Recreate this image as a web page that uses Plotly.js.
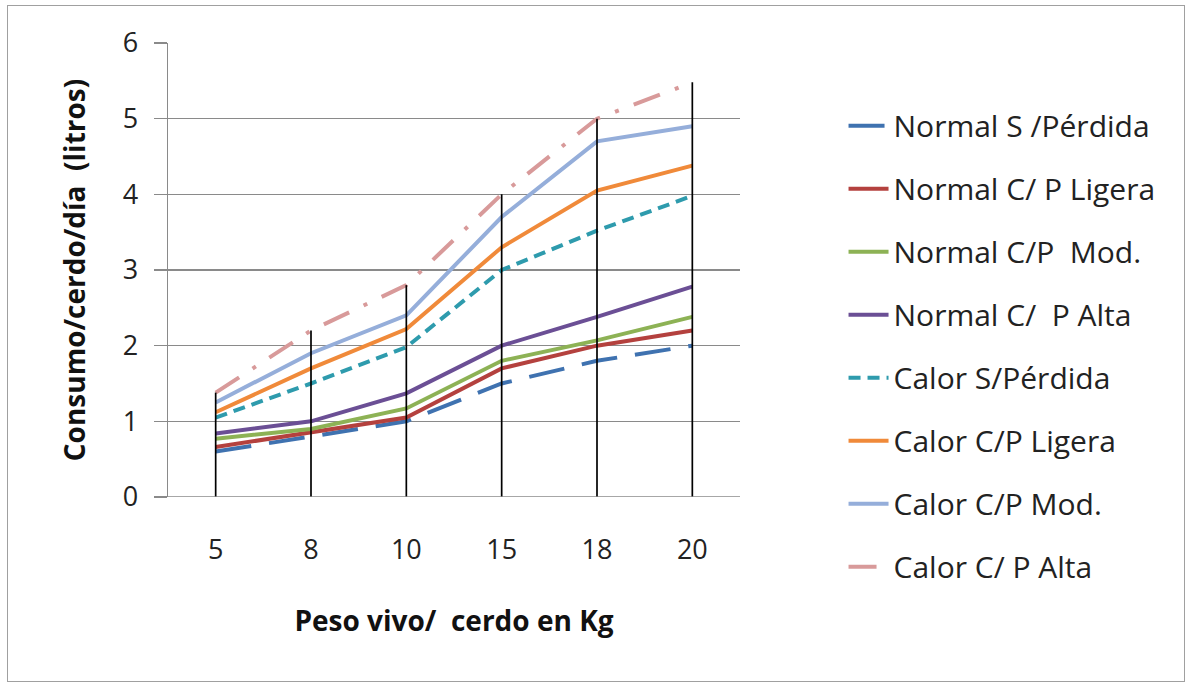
<!DOCTYPE html>
<html>
<head>
<meta charset="utf-8">
<script src="https://cdn.plot.ly/plotly-3.0.1.min.js"></script>
<style>
  html, body { margin: 0; padding: 0; background: #fff; }
  #frame { position: absolute; left: 7px; top: 5px; width: 1178px; height: 677px; border: 1.5px solid #a0a0a0; box-sizing: border-box; }
  #chart { position: absolute; left: 0; top: 0; width: 1188px; height: 684px; }
</style>
</head>
<body>
<div id="frame"></div>
<div id="chart"></div>
<script>
const categories = ['5', '8', '10', '15', '18', '20'];
const normalSinPerdida   = [0.6, 0.8, 1.0, 1.5, 1.8, 2.0];
const normalPLigera      = [0.66, 0.85, 1.05, 1.7, 2.0, 2.2];
const normalPMod         = [0.77, 0.9, 1.17, 1.8, 2.07, 2.38];
const normalPAlta        = [0.84, 1.0, 1.37, 2.0, 2.38, 2.78];
const calorSinPerdida    = [1.05, 1.5, 1.98, 3.0, 3.52, 3.98];
const calorPLigera       = [1.12, 1.7, 2.22, 3.3, 4.05, 4.38];
const calorPMod          = [1.25, 1.9, 2.4, 3.7, 4.7, 4.9];
const calorPAlta         = [1.38, 2.2, 2.8, 4.0, 5.0, 5.48];
const seriesNames = ['Normal S /Pérdida', 'Normal C/ P Ligera', 'Normal C/P  Mod.', 'Normal C/  P Alta',
                     'Calor S/Pérdida', 'Calor C/P Ligera', 'Calor C/P Mod.', 'Calor C/ P Alta'];
const yTicks = [0, 1, 2, 3, 4, 5, 6];

const allSeries = [normalSinPerdida, normalPLigera, normalPMod, normalPAlta,
                   calorSinPerdida, calorPLigera, calorPMod, calorPAlta];
const colors = ['#3F72B0', '#B4413E', '#8DB255', '#6B4F95', '#2E9BAD', '#F08A3A', '#95AEDA', '#D89A9A'];
const dashes = ['36px,18px', 'solid', 'solid', 'solid', '12px,7px', 'solid', 'solid', '28px,16px,4px,16px'];

const FONT = '"Open Sans", Lato, sans-serif';

const traces = allSeries.map((vals, i) => ({
  type: 'scatter', mode: 'lines', x: categories, y: vals, name: seriesNames[i],
  legendgroup: 'g' + i,
  line: { color: colors[i], width: 4, dash: dashes[i] },
  hoverinfo: 'x+y+name'
}));

// High-low (drop) lines from 0 to the highest series value at each category
const dropX = [], dropY = [];
categories.forEach((c, j) => {
  const top = Math.max(...allSeries.map(s => s[j]));
  dropX.push(c, c, null);
  dropY.push(0, top, null);
});
traces.push({
  type: 'scatter', mode: 'lines', x: dropX, y: dropY, showlegend: false,
  line: { color: '#000', width: 1.7 }, hoverinfo: 'skip', connectgaps: false
});

const layout = {
  width: 1188, height: 684,
  margin: { l: 168, r: 448, t: 43, b: 187 },
  paper_bgcolor: 'rgba(0,0,0,0)', plot_bgcolor: '#fff',
  font: { family: FONT, color: '#222' },
  xaxis: {
    type: 'category', range: [-0.5, 5.5],
    showgrid: false, zeroline: false, showline: false,
    ticks: 'outside', ticklen: 29, tickcolor: 'rgba(0,0,0,0)',
    tickfont: { size: 27, family: FONT, color: '#222' },
    title: { text: 'Peso vivo/  cerdo en Kg', font: { size: 28, family: FONT, color: '#111', weight: 'bold' }, standoff: 44 }
  },
  yaxis: {
    range: [0, 6], tickvals: yTicks, ticktext: yTicks.map(String),
    showgrid: true, gridcolor: '#8a8a8a', gridwidth: 1.4,
    zeroline: false, showline: true, linecolor: '#8a8a8a', linewidth: 1.4,
    ticks: 'outside', ticklen: 13, tickcolor: '#8a8a8a', tickwidth: 1.4,
    ticklabelstandoff: 10,
    tickfont: { size: 27, family: FONT, color: '#222' },
    title: { text: 'Consumo/cerdo/día  (litros)', font: { size: 28, family: FONT, color: '#111', weight: 'bold' }, standoff: 29 }
  },
  shapes: [{ type: 'line', xref: 'paper', yref: 'y', x0: -0.0227, x1: 1, y0: 0, y1: 0, line: { color: '#8a8a8a', width: 1.4 } }],
  legend: {
    x: 1.181, xanchor: 'left', y: 0.875, yanchor: 'top',
    font: { size: 30, family: FONT, color: '#222' },
    traceorder: 'grouped', tracegroupgap: 21,
    itemwidth: 40, bgcolor: 'rgba(0,0,0,0)', maxheight: 660
  },
  showlegend: true
};

Plotly.newPlot('chart', traces, layout, { displayModeBar: false, staticPlot: true });
</script>
</body>
</html>
